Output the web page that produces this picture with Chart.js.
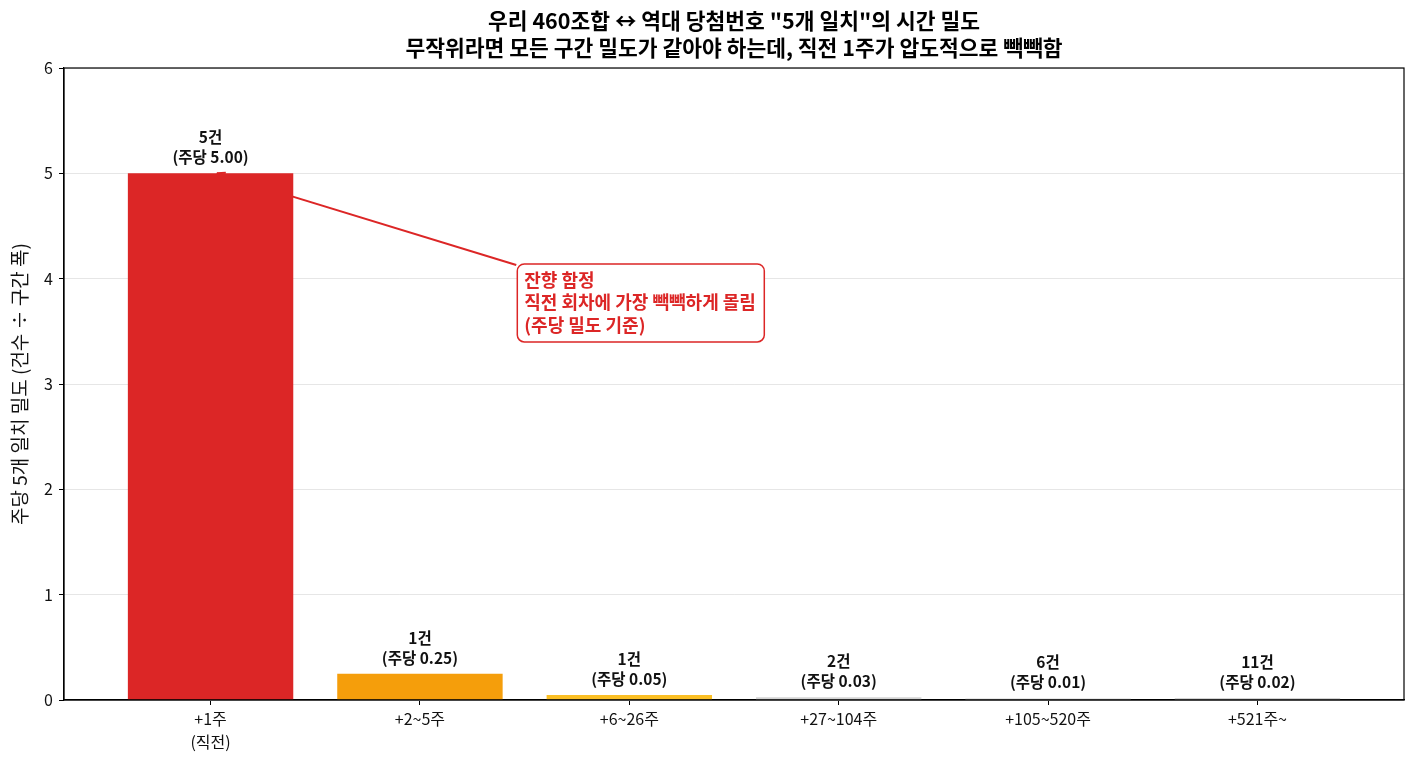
<!DOCTYPE html>
<html>
<head>
<meta charset="utf-8">
<script src="https://cdn.jsdelivr.net/npm/chart.js@4.4.1/dist/chart.umd.min.js"></script>
<style>
  body { margin: 0; background: #fff; }
  #wrap { width: 1415px; height: 765px; }
</style>
</head>
<body>
<div id="wrap"><canvas id="chart" width="1415" height="765"></canvas></div>
<script>
const categories = [['+1주', '(직전)'], '+2~5주', '+6~26주', '+27~104주', '+105~520주', '+521주~'];
const counts = [5, 1, 1, 2, 6, 11];
const density = [5.00, 0.25, 0.048, 0.026, 0.014, 0.02];
const barColors = ['#dc2626', '#f59e0b', '#fbbf24', '#d4d4d4', '#d4d4d4', '#d4d4d4'];
const yTicks = [0, 1, 2, 3, 4, 5, 6];
const titleLines = ['우리 460조합 ↔ 역대 당첨번호 "5개 일치"의 시간 밀도', '무작위라면 모든 구간 밀도가 같아야 하는데, 직전 1주가 압도적으로 빽빽함'];
const noteLines = ['잔향 함정', '직전 회차에 가장 빽빽하게 몰림', '(주당 밀도 기준)'];

const FONT = '"Noto Sans CJK KR", "Noto Sans", sans-serif';

// title, frame, arrow + note box, bar labels
const decor = {
  id: 'decor',
  beforeDatasetsDraw(chart) {
    const { ctx, scales: { x, y } } = chart;
    // arrow sits behind the bar
    const x0 = x.getPixelForValue(1.46), y0 = y.getPixelForValue(4.13);
    const x1 = x.getPixelForValue(0.03), y1 = y.getPixelForValue(5.0);
    ctx.save();
    ctx.strokeStyle = '#dc2626';
    ctx.lineWidth = 2;
    ctx.beginPath();
    ctx.moveTo(x0, y0);
    ctx.lineTo(x1, y1);
    ctx.stroke();
    const a = Math.atan2(y1 - y0, x1 - x0);
    ctx.beginPath();
    ctx.moveTo(x1, y1);
    ctx.lineTo(x1 - 9 * Math.cos(a - 0.35), y1 - 9 * Math.sin(a - 0.35));
    ctx.moveTo(x1, y1);
    ctx.lineTo(x1 - 9 * Math.cos(a + 0.35), y1 - 9 * Math.sin(a + 0.35));
    ctx.stroke();
    ctx.restore();
  },
  afterDatasetsDraw(chart) {
    const { ctx, chartArea: ca, scales: { x, y } } = chart;
    ctx.save();
    // value labels
    ctx.fillStyle = '#111';
    ctx.font = 'bold 15.5px ' + FONT;
    ctx.textAlign = 'center';
    ctx.textBaseline = 'middle';
    chart.getDatasetMeta(0).data.forEach((bar, i) => {
      ctx.fillText('(주당 ' + density[i].toFixed(2) + ')', bar.x, bar.y - 16);
      ctx.fillText(counts[i] + '건', bar.x, bar.y - 36);
    });
    // note box
    const bx = x.getPixelForValue(1.465), by = y.getPixelForValue(4.14);
    const bw = 247, bh = 78;
    ctx.fillStyle = '#fff';
    ctx.strokeStyle = '#dc2626';
    ctx.lineWidth = 1.5;
    ctx.beginPath();
    ctx.roundRect(bx, by, bw, bh, 7);
    ctx.fill();
    ctx.stroke();
    ctx.fillStyle = '#dc2626';
    ctx.font = 'bold 18px ' + FONT;
    ctx.textAlign = 'left';
    ctx.textBaseline = 'middle';
    noteLines.forEach((t, i) => ctx.fillText(t, bx + 7, by + 16 + i * 22.5));
    // frame
    ctx.strokeStyle = '#000';
    ctx.lineWidth = 1.2;
    ctx.strokeRect(ca.left, ca.top, ca.right - ca.left, ca.bottom - ca.top);
    // title
    ctx.fillStyle = '#000';
    ctx.font = 'bold 21.5px ' + FONT;
    ctx.textAlign = 'center';
    ctx.textBaseline = 'middle';
    const cx = (ca.left + ca.right) / 2;
    ctx.fillText(titleLines[0], cx, 21);
    ctx.fillText(titleLines[1], cx, 48);
    ctx.restore();
  }
};

new Chart(document.getElementById('chart'), {
  type: 'bar',
  data: {
    datasets: [{
      data: density.map((v, i) => ({ x: i, y: v })),
      backgroundColor: barColors,
      borderWidth: 0,
      categoryPercentage: 1,
      barPercentage: 0.79
    }]
  },
  options: {
    responsive: false,
    animation: false,
    layout: { padding: { top: 68, right: 11, left: 0, bottom: 0 } },
    plugins: { legend: { display: false }, tooltip: { enabled: false } },
    scales: {
      x: {
        type: 'linear',
        offset: false,
        min: -0.7,
        max: 5.7,
        afterBuildTicks: s => { s.ticks = categories.map((_, i) => ({ value: i })); },
        afterFit: s => { s.height = 65; },
        ticks: {
          autoSkip: false,
          maxRotation: 0,
          color: '#111',
          padding: 3,
          font: { family: FONT, size: 16, lineHeight: 1.4 },
          callback: v => categories[v]
        },
        grid: { offset: false, drawOnChartArea: false, tickColor: '#000', tickLength: 5 },
        border: { color: '#000', width: 1.2 }
      },
      y: {
        min: 0,
        max: 6,
        afterBuildTicks: s => { s.ticks = yTicks.map(v => ({ value: v })); },
        afterFit: s => { s.width = 64; },
        ticks: {
          color: '#111',
          padding: 6,
          font: { family: FONT, size: 16 }
        },
        grid: { color: '#e6e6e6', tickColor: '#000', tickLength: 5 },
        border: { color: '#000', width: 1.2 },
        title: {
          display: true,
          text: '주당 5개 일치 밀도 (건수 ÷ 구간 폭)',
          color: '#111',
          padding: { top: 8, bottom: 0 },
          font: { family: FONT, size: 19 }
        }
      }
    }
  },
  plugins: [decor]
});
</script>
</body>
</html>
